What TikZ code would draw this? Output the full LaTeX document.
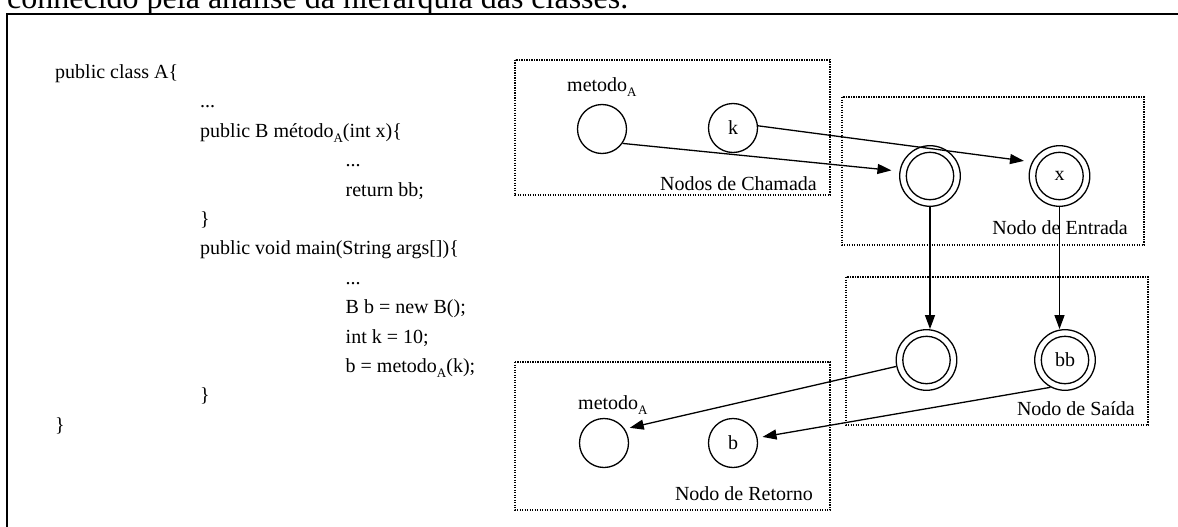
\documentclass[tikz,border=0pt]{standalone}
\usepackage{fontspec}
\setmainfont{Liberation Serif}
\usetikzlibrary{arrows.meta}
% lowered small "A" used as a subscript in the method names
\newcommand\subA{\raisebox{-5pt}{\fontsize{13}{13}\selectfont A}}
% baseline of the n-th code line (uniform pitch)
\newcommand\codey[1]{78.5+29.4*(#1-1)}

\begin{document}
\begin{tikzpicture}[x=1pt,y=-1pt,
  every node/.style={font=\fontsize{20}{24}\selectfont, inner sep=0pt},
  codeline/.style={anchor=base west},
  boxlabel/.style={anchor=base east},
  region/.style={draw, line width=1.6pt, dash pattern=on 1.4pt off 1.1pt},
  single/.style={circle, draw, line width=1.3pt, minimum size=49pt},
  outer/.style={circle, draw, line width=1.3pt, minimum size=60.6pt},
  link/.style={line width=1.3pt, -{Triangle[length=14pt,width=10pt]}},
]
\useasboundingbox (0,0) rectangle (1178,527);
\clip (0,0) rectangle (1178,527);
\fill[white] (0,0) rectangle (1178,527);

% caption line above the frame
\node[anchor=base west, font=\fontsize{32}{36}\selectfont] (caption) at (7,8.5)
  {conhecido pela análise da hierarquia das classes.};

% frame
\draw[line width=1.8pt] (7,540) -- (7,14) -- (1190,14);

% source code
\node[codeline] (c1)  at (55,{\codey{1}})   {public class A\{};
\node[codeline] (c2)  at (200,{\codey{2}})  {...};
\node[codeline] (c3)  at (200,{\codey{3}})  {public B método\subA(int x)\{};
\node[codeline] (c4)  at (345.5,{\codey{4}}) {...};
\node[codeline] (c5)  at (345.5,{\codey{5}}) {return bb;};
\node[codeline] (c6)  at (200,{\codey{6}})  {\}};
\node[codeline] (c7)  at (200,{\codey{7}})  {public void main(String args[])\{};
\node[codeline] (c8)  at (345.5,{\codey{8}}) {...};
\node[codeline] (c9)  at (345.5,{\codey{9}}) {B b = new B();};
\node[codeline] (c10) at (345.5,{\codey{10}}) {int k = 10;};
\node[codeline] (c11) at (345.5,{\codey{11}}) {b = metodo\subA(k);};
\node[codeline] (c12) at (200,{\codey{12}}) {\}};
\node[codeline] (c13) at (55,{\codey{13}})  {\}};

% dotted regions
\draw[region] (515,60)  rectangle (830,195);
\draw[region] (842,97)  rectangle (1144,245);
\draw[region] (846,277) rectangle (1148,425);
\draw[region] (515,362) rectangle (830,510);

\node[boxlabel] (lchamada) at (817,190)  {Nodos de Chamada};
\node[boxlabel] (lentrada) at (1128,234) {Nodo de Entrada};
\node[boxlabel] (lsaida)   at (1135,415) {Nodo de Saída};
\node[boxlabel] (lretorno) at (813,500)  {Nodo de Retorno};

% call nodes
\node[codeline] (lm1) at (567,92) {metodo\subA};
\node[single] (m1) at (602,129) {};
\node[single] (k)  at (733,128) {k};

% entry nodes
\node[outer] (e1) at (930,176) {};
\node[outer] (x)  at (1059.5,176) {x};

% exit nodes
\node[outer] (s1) at (926.5,360) {};
\node[outer] (bb) at (1065,360) {bb};

% return nodes
\node[codeline] (lm2) at (578,409) {metodo\subA};
\node[single] (m2) at (604,443) {};
\node[single] (b)  at (733,443) {b};

% inner rings of the double circles
\foreach \n in {e1,x,s1,bb}
  \draw[line width=1.3pt] (\n.center) circle[radius=23.7pt];

% connectors
\draw[link, shorten >=8pt] (m1.-35) -- (e1.171);
\draw[link, shorten >=8pt] (k.5) -- (x.153);
\draw[link] (e1.south) -- (e1.south |- s1.north);
\draw[link] (x.south) -- (x.south |- bb.north);
\draw[link, shorten >=5pt] (s1.192) -- (m2.34);
\draw[link, shorten >=5pt] (bb.242) -- (b.12);
\end{tikzpicture}
\end{document}
